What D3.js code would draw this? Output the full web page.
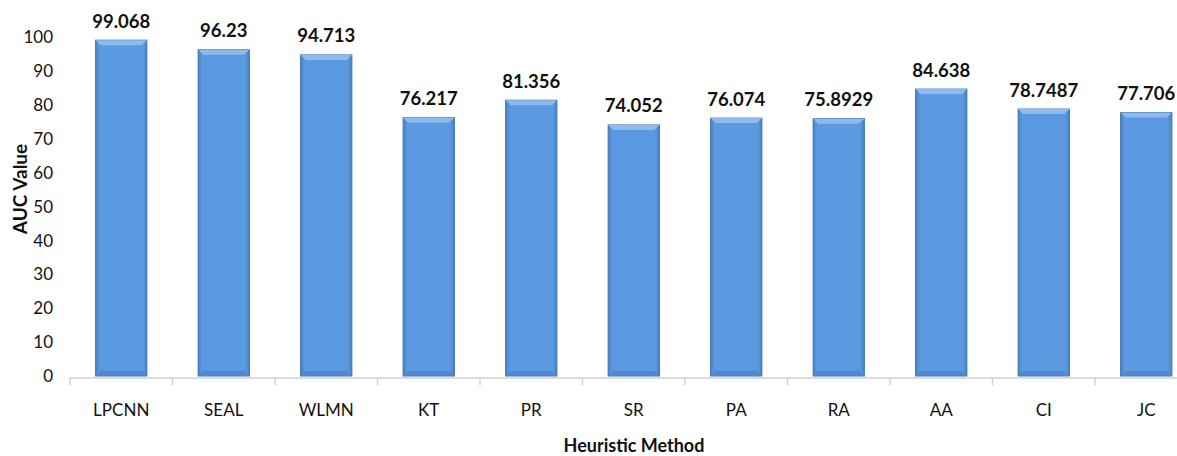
<!DOCTYPE html>
<html>
<head>
<meta charset="utf-8">
<script src="https://cdn.jsdelivr.net/npm/d3@7"></script>
<style>
  body { margin: 0; background: #fff; overflow: hidden; }
  text { font-family: Lato, "Open Sans", sans-serif; fill: #111; }
</style>
</head>
<body>
<div id="main"></div>
<script>
const methods = ["LPCNN", "SEAL", "WLMN", "KT", "PR", "SR", "PA", "RA", "AA", "CI", "JC"];
const aucValues = [99.068, 96.23, 94.713, 76.217, 81.356, 74.052, 76.074, 75.8929, 84.638, 78.7487, 77.706];
const valueLabels = ["99.068", "96.23", "94.713", "76.217", "81.356", "74.052", "76.074", "75.8929", "84.638", "78.7487", "77.706"];
const yTicks = [0, 10, 20, 30, 40, 50, 60, 70, 80, 90, 100];

const ctx = { w: 1177, h: 456, left: 70, right: 1197.5, top: 37, bottom: 376 };

function createViz() {
    const svg = d3.select("#main").append("svg")
        .attr("width", ctx.w).attr("height", ctx.h);

    const x = d3.scaleBand().domain(methods).range([ctx.left, ctx.right]).paddingInner(0.5).paddingOuter(0.25);
    const y = d3.scaleLinear().domain([0, 100]).range([ctx.bottom, ctx.top]);

    const defs = svg.append("defs");
    const grad = defs.append("linearGradient").attr("id", "barGrad")
        .attr("x1", "0").attr("x2", "1").attr("y1", "0").attr("y2", "0");
    grad.append("stop").attr("offset", "0").attr("stop-color", "#4a82c6");
    grad.append("stop").attr("offset", "0.08").attr("stop-color", "#5b99e0");
    grad.append("stop").attr("offset", "0.92").attr("stop-color", "#5b99e0");
    grad.append("stop").attr("offset", "1").attr("stop-color", "#4a82c6");

    // y labels only, the chart has no y axis line
    svg.append("g").selectAll("text").data(yTicks).join("text")
        .attr("x", 53).attr("y", d => y(d))
        .attr("dy", "0.36em").attr("text-anchor", "end")
        .style("font-size", "17px").text(d => d);

    // x axis line + ticks between categories
    const axisG = svg.append("g");
    axisG.append("line")
        .attr("x1", ctx.left).attr("x2", ctx.right)
        .attr("y1", 378).attr("y2", 378)
        .attr("stroke", "#d0d0d0").attr("stroke-width", 1.5);
    axisG.selectAll("line.tick").data(methods).join("line").attr("class", "tick")
        .attr("x1", d => x(d) - (x.step() - x.bandwidth()) / 2)
        .attr("x2", d => x(d) - (x.step() - x.bandwidth()) / 2)
        .attr("y1", 378).attr("y2", 385)
        .attr("stroke", "#d0d0d0").attr("stroke-width", 1.5);

    axisG.selectAll("text.cat").data(methods).join("text").attr("class", "cat")
        .attr("x", d => x(d) + x.bandwidth() / 2).attr("y", 416)
        .attr("text-anchor", "middle").style("font-size", "17px").text(d => d);

    // bars with a small bevel on top and bottom
    const bars = svg.append("g").selectAll("g").data(methods).join("g");
    const bev = 5;
    bars.append("rect")
        .attr("x", d => x(d)).attr("y", (d, i) => y(aucValues[i]))
        .attr("width", x.bandwidth()).attr("height", (d, i) => y(0) - y(aucValues[i]))
        .attr("fill", "url(#barGrad)").attr("stroke", "#3f72b0").attr("stroke-width", 1);
    bars.append("polygon")
        .attr("points", (d, i) => {
            const x0 = x(d), x1 = x(d) + x.bandwidth(), t = y(aucValues[i]);
            return [[x0, t], [x1, t], [x1 - bev, t + bev], [x0 + bev, t + bev]].join(" ");
        })
        .attr("fill", "#8dbbee");
    bars.append("polygon")
        .attr("points", (d, i) => {
            const x0 = x(d), x1 = x(d) + x.bandwidth(), b = y(0);
            return [[x0, b], [x1, b], [x1 - bev, b - bev], [x0 + bev, b - bev]].join(" ");
        })
        .attr("fill", "#4f88cc");

    // value labels
    svg.append("g").selectAll("text").data(methods).join("text")
        .attr("x", d => x(d) + x.bandwidth() / 2)
        .attr("y", (d, i) => y(aucValues[i]) - 12.5)
        .attr("text-anchor", "middle").style("font-size", "18.5px").style("font-weight", "bold")
        .text((d, i) => valueLabels[i]);

    // axis titles
    svg.append("text")
        .attr("transform", "translate(27,189) rotate(-90)")
        .attr("text-anchor", "middle").style("font-size", "19px").style("font-weight", "bold")
        .text("AUC Value");
    svg.append("text")
        .attr("x", 634).attr("y", 452)
        .attr("text-anchor", "middle").style("font-size", "18px").style("font-weight", "bold")
        .text("Heuristic Method");
}

createViz();
</script>
</body>
</html>
